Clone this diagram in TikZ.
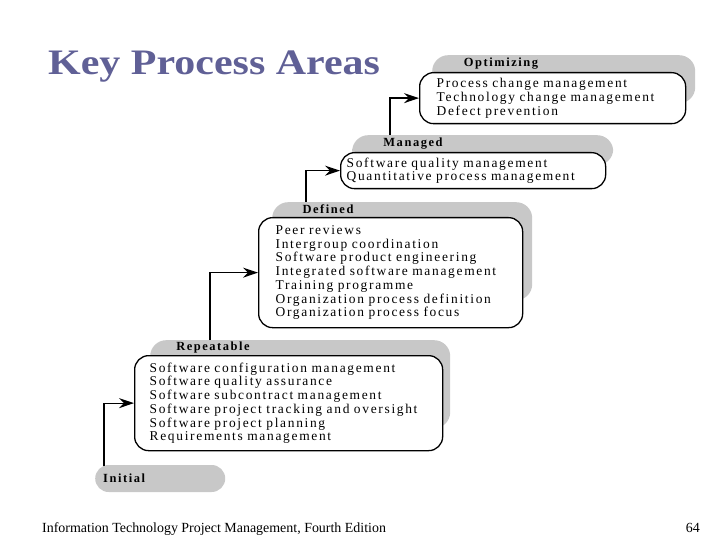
\documentclass[tikz,border=0pt]{standalone}
\usepackage{fontspec}
\setmainfont{Liberation Serif}
\newfontfamily\kpafont[LetterSpace=12.5]{Liberation Serif}
\newfontfamily\kpatitlefont[FakeStretch=1.17]{Liberation Serif}
\usetikzlibrary{arrows.meta}
\definecolor{kpatitle}{RGB}{96,96,150}
\definecolor{kpagray}{RGB}{200,200,200}

\begin{document}
\begin{tikzpicture}[x=1bp, y=-1bp,
  kpatab/.style={fill=kpagray, rounded corners=16bp, anchor=north west, inner sep=0pt},
  kpabox/.style={draw, line width=1.3bp, fill=white, rounded corners=14bp, anchor=north west, align=left, inner ysep=0pt, font=\kpafont\fontsize{13.5}{13.8}\selectfont},
  kpahead/.style={font=\kpafont\bfseries\fontsize{12.5}{12.5}\selectfont, inner sep=0pt},
  kpaarrow/.style={line width=1.3bp, -{Stealth[length=15bp, width=10bp, inset=5bp]}}]
\useasboundingbox (0,0) rectangle (720,540);

% Title and footer
\node[anchor=base west, inner sep=0pt, text=kpatitle, font=\kpatitlefont\bfseries\fontsize{36}{36}\selectfont] (title) at (48,75) {Key Process Areas};
\node[anchor=base west, inner sep=0pt, font=\fontsize{14}{14}\selectfont] (footer) at (42,532) {Information Technology Project Management, Fourth Edition};
\node[anchor=base east, inner sep=0pt, font=\fontsize{14}{14}\selectfont] (pageno) at (700,532) {64};

% Gray tabs behind the levels
\node[kpatab, minimum width=263bp, minimum height=48bp] (optimizing-tab) at (432,55) {};
\node[kpatab, minimum width=261bp, minimum height=30bp] (managed-tab) at (352,135) {};
\node[kpatab, minimum width=260bp, minimum height=98bp] (defined-tab) at (272,202) {};
\node[kpatab, minimum width=300bp, minimum height=88bp] (repeatable-tab) at (150,340) {};
\node[kpatab, anchor=west, minimum width=130bp, minimum height=27bp, rounded corners=13.5bp, inner xsep=8bp, text width=114bp, font=\kpafont\bfseries\fontsize{12.5}{12.5}\selectfont] (initial) at (95,478.5) {Initial};

% Level headings
\node[kpahead] (optimizing-t) at (501,64) {Optimizing};
\node[kpahead] (managed-t) at (413,144) {Managed};
\node[kpahead] (defined-t) at (328,209) {Defined};
\node[kpahead] (repeatable-t) at (213,348) {Repeatable};

% Key process areas of each level
\node[kpabox, minimum height=51bp, inner xsep=17bp, text width=232bp] (optimizing) at (419,72) {Process change management\\Technology change management\\Defect prevention};
\node[kpabox, minimum height=36bp, inner xsep=6bp, text width=253bp] (managed) at (340,152) {Software quality management\\Quantitative process management};
\node[kpabox, minimum height=110bp, inner xsep=17bp, text width=230bp] (defined) at (258,217) {Peer reviews\\Intergroup coordination\\Software product engineering\\Integrated software management\\Training programme\\Organization process definition\\Organization process focus};
\node[kpabox, minimum height=95bp, inner xsep=15bp, text width=278bp] (repeatable) at (134,355) {Software configuration management\\Software quality assurance\\Software subcontract management\\Software project tracking and oversight\\Software project planning\\Requirements management};

% Steps up
\coordinate (initial-up) at (104,466);
\coordinate (repeatable-up) at (210,340);
\coordinate (defined-up) at (306,202);
\coordinate (managed-up) at (390,135);
\draw[kpaarrow] (initial-up) |- (repeatable);
\draw[kpaarrow] (repeatable-up) |- (defined);
\draw[kpaarrow] (defined-up) |- (managed);
\draw[kpaarrow] (managed-up) |- (optimizing);

\end{tikzpicture}
\end{document}
